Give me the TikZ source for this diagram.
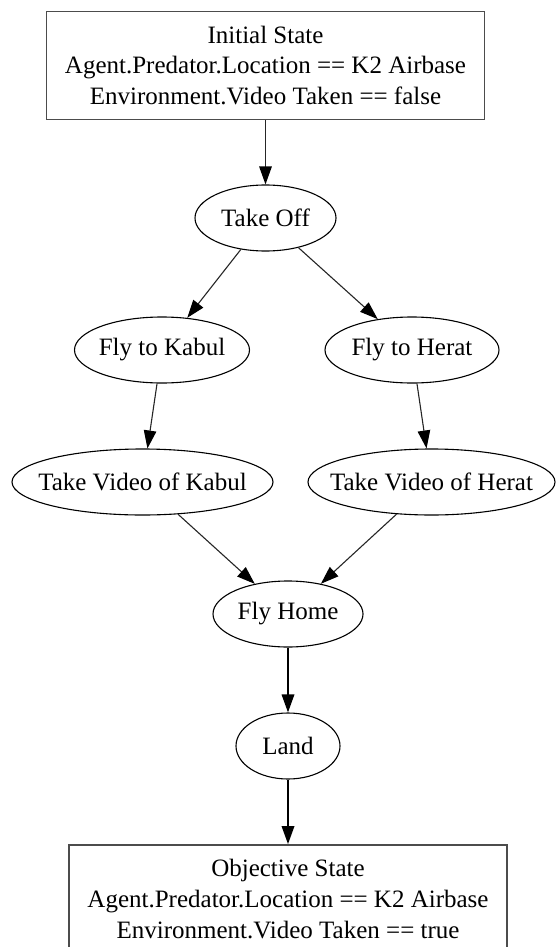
\documentclass[tikz,border=0pt]{standalone}
\usepackage{fontspec}
\setmainfont{Liberation Serif}
\usetikzlibrary{arrows.meta,shapes.geometric}
% label set in a zero-width box, so the ellipse keeps its given size
\newcommand\actlabel[1]{\makebox[0pt]{#1}}
\begin{document}
\begin{tikzpicture}[x=1pt,y=-1pt,
  font=\fontsize{25}{30.8}\selectfont,
  statebox/.style={draw=black!70, line width=1.8pt, align=center,
    minimum width=438pt, minimum height=108pt, inner sep=0pt},
  action/.style={draw=black, ellipse, line width=1.1pt, inner sep=0pt,
    minimum height=66pt},
  edge/.style={draw=black!85, line width=1.1pt,
    -{Triangle[length=18pt,width=12.5pt,color=black]}},
  thickedge/.style={edge, line width=1.8pt, draw=black}]
% page
\fill[white] (0,0) rectangle (556,947);
\useasboundingbox (0,0) rectangle (556,947);

% states
\node[statebox] (init) at (265.5,65.5)
  {Initial State\\Agent.Predator.Location == K2 Airbase\\Environment.Video Taken == false};
\node[statebox] (goal) at (288,899)
  {Objective State\\Agent.Predator.Location == K2 Airbase\\Environment.Video Taken == true};

% actions
\node[action, minimum width=141pt] (takeoff)  at (265.5,218) {\actlabel{Take Off}};
\node[action, minimum width=175pt] (flykabul) at (162,350) {\actlabel{Fly to Kabul}};
\node[action, minimum width=174pt] (flyherat) at (412,350) {\actlabel{Fly to Herat}};
\node[action, minimum width=261pt] (vidkabul) at (142.5,482) {\actlabel{Take Video of Kabul}};
\node[action, minimum width=247pt] (vidherat) at (431.5,482) {\actlabel{Take Video of Herat}};
\node[action, minimum width=150pt] (flyhome)  at (288,614) {\actlabel{Fly Home}};
\node[action, minimum width=104pt] (land)     at (288,746) {\actlabel{Land}};

% plan ordering
\draw[edge, line width=1.4pt] (init) -- (takeoff);
\draw[edge] (takeoff) -- (flykabul);
\draw[edge] (takeoff) -- (flyherat);
\draw[edge] (flykabul) -- (vidkabul);
\draw[edge] (flyherat) -- (vidherat);
\draw[edge] (vidkabul) -- (flyhome);
\draw[edge] (vidherat) -- (flyhome);
\draw[thickedge] (flyhome) -- (land);
\draw[thickedge] (land) -- (goal);
\end{tikzpicture}
\end{document}
